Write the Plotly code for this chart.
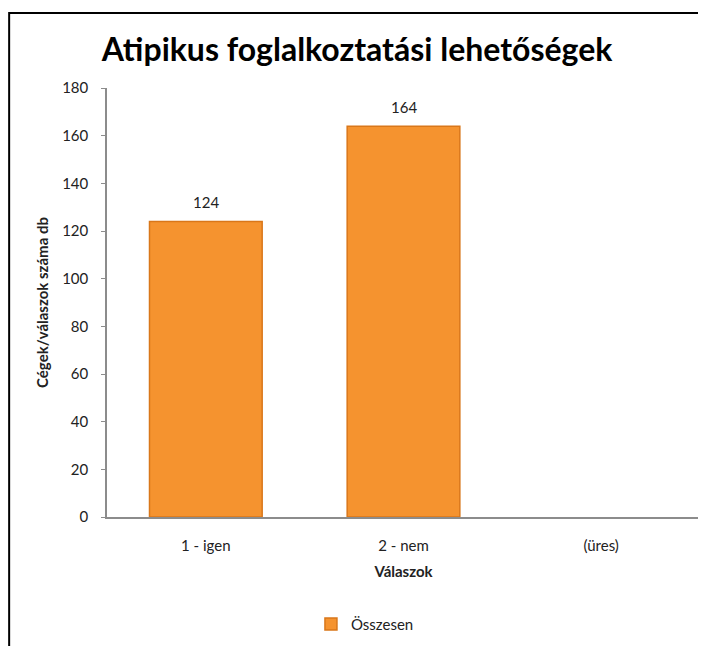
from plotly import graph_objs as go

# adatok
kategoriak = ["1 - igen", "2 - nem", "(üres)"]
ertekek = [124, 164, None]
y_tickek = [0, 20, 40, 60, 80, 100, 120, 140, 160, 180]

FONT = "Lato, 'Open Sans', sans-serif"

fig = go.Figure()
fig.add_trace(go.Bar(x=kategoriak, y=ertekek, name="Összesen",
                     marker=dict(color="#F5932F", line=dict(color="#D9771A", width=1.5)),
                     width=0.57))

# adatcímkék a oszlopok fölött
for kat, ert in zip(kategoriak, ertekek):
    if ert is None:
        continue
    fig.add_annotation(x=kat, y=ert, text=str(ert), showarrow=False,
                       yanchor="bottom", yshift=8,
                       font=dict(size=15, color="#222222", family=FONT))

# keret a diagram körül
fig.add_shape(type="rect", xref="paper", yref="paper",
              x0=-0.165, y0=-0.32, x1=1.1, y1=1.175,
              line=dict(color="black", width=2), layer="below")

fig.update_layout(
    width=698, height=638,
    margin=dict(l=99, r=6, t=80, b=129, autoexpand=False),
    paper_bgcolor="white", plot_bgcolor="white",
    font=dict(family=FONT, size=15, color="#222222"),
    title=dict(text="<b>Atipikus foglalkoztatási lehetőségek</b>",
               x=0.5, xanchor="center", y=0.935, yanchor="middle",
               font=dict(size=32, color="black", family=FONT)),
    xaxis=dict(title=dict(text="<b>Válaszok</b>", font=dict(size=15), standoff=14),
               showline=True, linecolor="#8C8C8C", linewidth=1.5,
               ticks="", showgrid=False, automargin=False, ticklabelstandoff=14),
    yaxis=dict(title=dict(text="<b>Cégek/válaszok száma db</b>", font=dict(size=15), standoff=10),
               range=[0, 180], tickvals=y_tickek,
               showline=True, linecolor="#8C8C8C", linewidth=1.5,
               ticks="outside", ticklen=4, tickcolor="#8C8C8C", ticklabelstandoff=10,
               showgrid=False, zeroline=False, automargin=False),
    showlegend=True,
    legend=dict(orientation="h", x=0.435, xanchor="center", y=-0.25, yanchor="middle",
                font=dict(size=15)),
    bargap=0.43,
)

fig.write_html("out.html")
